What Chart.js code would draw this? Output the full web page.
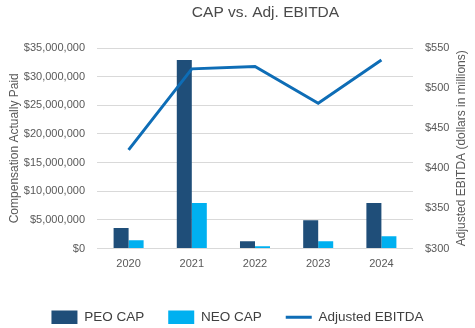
<!DOCTYPE html>
<html>
<head>
<meta charset="utf-8">
<script src="https://cdn.jsdelivr.net/npm/chart.js@4"></script>
<style>
  html, body { margin: 0; padding: 0; background: #fff; }
  #wrap { width: 475px; height: 328px; }
</style>
</head>
<body>
<div id="wrap"><canvas id="chart" width="475" height="328"></canvas></div>
<script>
// datos
const years = ['2020', '2021', '2022', '2023', '2024'];
const peoCap = [3600000, 32900000, 1250000, 4950000, 7950000];
const neoCap = [1450000, 7950000, 400000, 1250000, 2150000];
const adjEbitda = [423, 524, 527, 481, 535];

const leftTicks = { min: 0, max: 35000000, step: 5000000 };
const rightTicks = { min: 300, max: 550, step: 50 };

const FONT = "'Liberation Sans', Arial, sans-serif";
const GRAY = '#595959';

// titulo del grafico y titulo del eje derecho (leido de abajo hacia arriba)
const extraText = {
  id: 'extraText',
  afterDraw(chart) {
    const ctx = chart.ctx;
    ctx.save();
    ctx.fillStyle = '#4a4a4a';
    ctx.font = '15.5px ' + FONT;
    ctx.textAlign = 'center';
    ctx.textBaseline = 'middle';
    ctx.fillText('CAP vs. Adj. EBITDA', 265.5, 13);

    ctx.fillStyle = GRAY;
    ctx.font = '12px ' + FONT;
    ctx.translate(462, (chart.chartArea.top + chart.chartArea.bottom) / 2);
    ctx.rotate(-Math.PI / 2);
    ctx.fillText('Adjusted EBITDA (dollars in millions)', 0, 0);
    ctx.restore();
  }
};

new Chart(document.getElementById('chart'), {
  type: 'bar',
  data: {
    labels: years,
    datasets: [
      {
        label: 'PEO CAP',
        data: peoCap,
        backgroundColor: '#1f4e79',
        yAxisID: 'y',
        order: 1,
        barPercentage: 1,
        categoryPercentage: 0.475,
        pointStyle: 'rect'
      },
      {
        label: 'NEO CAP',
        data: neoCap,
        backgroundColor: '#00b0f0',
        yAxisID: 'y',
        order: 1,
        barPercentage: 1,
        categoryPercentage: 0.475,
        pointStyle: 'rect'
      },
      {
        type: 'line',
        label: 'Adjusted EBITDA',
        data: adjEbitda,
        borderColor: '#0e6db6',
        backgroundColor: '#0e6db6',
        borderWidth: 3,
        pointRadius: 0,
        tension: 0,
        yAxisID: 'y1',
        order: 0,
        pointStyle: 'line'
      }
    ]
  },
  plugins: [extraText],
  options: {
    responsive: false,
    animation: false,
    layout: { padding: { top: 48, left: 0, right: 0, bottom: -6 } },
    plugins: {
      title: { display: false },
      tooltip: { enabled: false },
      legend: {
        position: 'bottom',
        labels: {
          usePointStyle: true,
          pointStyleWidth: 26,
          boxHeight: 14,
          padding: 24,
          color: '#404040',
          font: { family: FONT, size: 13.5 },
          sort: (a, b) => a.datasetIndex - b.datasetIndex
        }
      }
    },
    scales: {
      x: {
        grid: { display: false, drawTicks: false },
        border: { display: false },
        ticks: { color: GRAY, padding: 9, font: { family: FONT, size: 11 } },
        afterFit(scale) { scale.height = 38; }
      },
      y: {
        position: 'left',
        min: leftTicks.min,
        max: leftTicks.max,
        grid: { color: '#d9d9d9', drawTicks: false },
        border: { display: false },
        ticks: {
          stepSize: leftTicks.step,
          padding: 12,
          color: GRAY,
          font: { family: FONT, size: 11 },
          callback: v => '$' + v.toLocaleString('en-US')
        },
        title: {
          display: true,
          text: 'Compensation Actually Paid',
          color: GRAY,
          font: { family: FONT, size: 12 },
          padding: { top: 7, bottom: 0 }
        },
        afterFit(scale) { scale.width = 97; }
      },
      y1: {
        position: 'right',
        min: rightTicks.min,
        max: rightTicks.max,
        grid: { drawOnChartArea: false, drawTicks: false },
        border: { display: false },
        ticks: {
          stepSize: rightTicks.step,
          padding: 12,
          color: GRAY,
          font: { family: FONT, size: 11 },
          callback: v => '$' + v
        },
        afterFit(scale) { scale.width = 62; }
      }
    }
  }
});
</script>
</body>
</html>
